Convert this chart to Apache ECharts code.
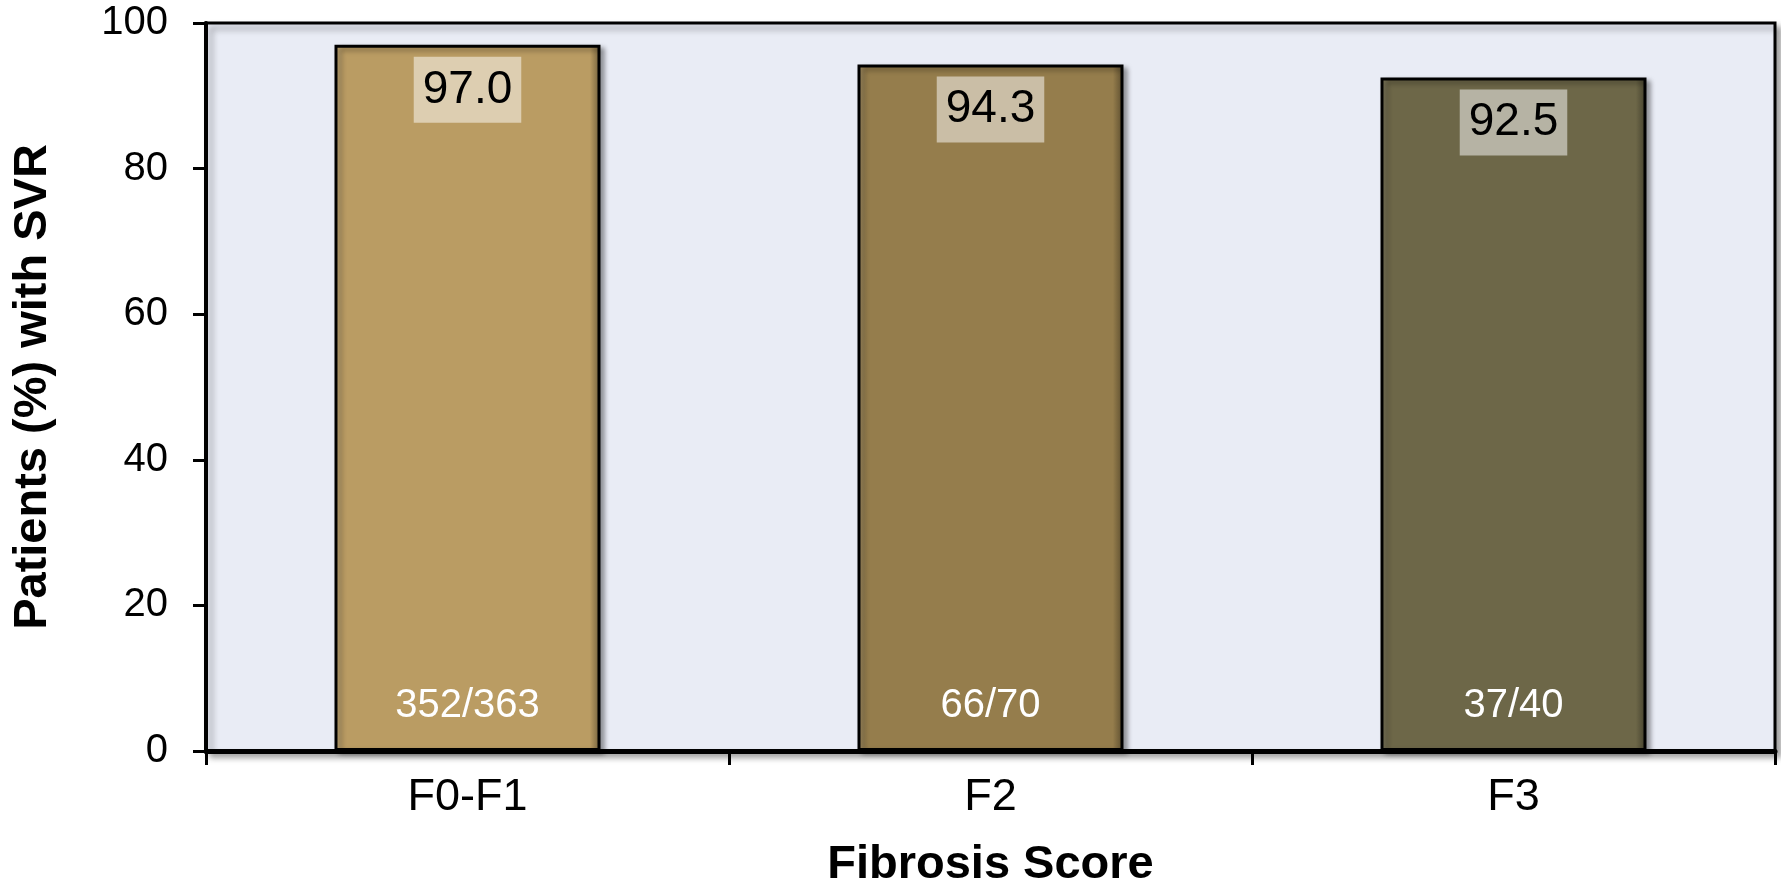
<!DOCTYPE html>
<html>
<head>
<meta charset="utf-8">
<script src="https://cdn.jsdelivr.net/npm/echarts@6/dist/echarts.min.js"></script>
<style>
html,body{margin:0;padding:0;background:#fff;}
#chart{width:1781px;height:894px;}
</style>
</head>
<body>
<div id="chart"></div>
<script>
var categories = ['F0-F1', 'F2', 'F3'];
var svrValues = [97.0, 94.3, 92.5];
var countLabels = ['352/363', '66/70', '37/40'];
var barColors = ['#BA9C63', '#957D4C', '#6D6748'];
var yTicks = [0, 20, 40, 60, 80, 100];

function shade(hex, f) {
  var r = parseInt(hex.substr(1,2),16), g = parseInt(hex.substr(3,2),16), b = parseInt(hex.substr(5,2),16);
  function c(v){ v = f >= 0 ? v + (255 - v) * f : v * (1 + f); return Math.round(Math.max(0, Math.min(255, v))); }
  return 'rgb(' + c(r) + ',' + c(g) + ',' + c(b) + ')';
}
function bevel(hex) {
  return new echarts.graphic.LinearGradient(0, 0, 1, 0, [
    { offset: 0, color: shade(hex, 0.15) },
    { offset: 0.035, color: hex },
    { offset: 0.96, color: hex },
    { offset: 1, color: shade(hex, -0.4) }
  ]);
}

var chart = echarts.init(document.getElementById('chart'));
chart.setOption({
  animation: false,
  backgroundColor: '#ffffff',
  grid: {
    left: 206, right: 6, top: 23, bottom: 136,
    show: true,
    backgroundColor: '#E9ECF5',
    borderColor: '#000',
    borderWidth: 3,
    shadowColor: 'rgba(0,0,0,0.35)',
    shadowBlur: 6,
    shadowOffsetX: 5,
    shadowOffsetY: 5
  },
  xAxis: {
    type: 'category',
    data: categories,
    boundaryGap: true,
    name: 'Fibrosis Score',
    nameLocation: 'middle',
    nameGap: 91,
    nameTextStyle: { fontFamily: 'Liberation Sans, Arial, sans-serif', fontSize: 47, fontWeight: 'bold', color: '#000' },
    axisLine: { show: true, lineStyle: { color: '#000', width: 5 } },
    axisTick: { show: true, alignWithLabel: false, length: 14, lineStyle: { color: '#000', width: 3 } },
    axisLabel: { margin: 24, fontFamily: 'Liberation Sans, Arial, sans-serif', fontSize: 45, color: '#000' },
    splitLine: { show: false }
  },
  yAxis: {
    type: 'value',
    min: yTicks[0],
    max: yTicks[yTicks.length - 1],
    interval: 20,
    name: 'Patients (%) with SVR',
    nameLocation: 'middle',
    nameGap: 149,
    nameTextStyle: { fontFamily: 'Liberation Sans, Arial, sans-serif', fontSize: 47, fontWeight: 'bold', color: '#000' },
    axisLine: { show: true, lineStyle: { color: '#000', width: 4 } },
    axisTick: { show: true, inside: false, length: 13, lineStyle: { color: '#000', width: 3 } },
    axisLabel: { margin: 38, fontFamily: 'Liberation Sans, Arial, sans-serif', fontSize: 40, color: '#000' },
    splitLine: { show: false }
  },
  series: [
    {
      type: 'bar',
      barWidth: 266,
      data: svrValues.map(function (v, i) {
        return {
          value: v,
          itemStyle: {
            color: bevel(barColors[i]),
            borderColor: '#000',
            borderWidth: 3,
            shadowColor: 'rgba(0,0,0,0.35)',
            shadowBlur: 5,
            shadowOffsetX: 4,
            shadowOffsetY: 3
          }
        };
      }),
      label: {
        show: true,
        position: 'insideTop',
        distance: 12,
        formatter: function (p) { return p.value.toFixed(1); },
        fontFamily: 'Liberation Sans, Arial, sans-serif',
        fontSize: 46,
        lineHeight: 46,
        color: '#000',
        backgroundColor: 'rgba(255,255,255,0.5)',
        padding: [10, 9, 10, 9]
      }
    },
    {
      type: 'bar',
      barWidth: 266,
      barGap: '-100%',
      silent: true,
      data: svrValues,
      itemStyle: { color: 'rgba(0,0,0,0)' },
      label: {
        show: true,
        position: 'insideBottom',
        distance: 25,
        formatter: function (p) { return countLabels[p.dataIndex]; },
        fontFamily: 'Liberation Sans, Arial, sans-serif',
        fontSize: 40,
        lineHeight: 40,
        color: '#fff'
      }
    }
  ]
});
</script>
</body>
</html>
